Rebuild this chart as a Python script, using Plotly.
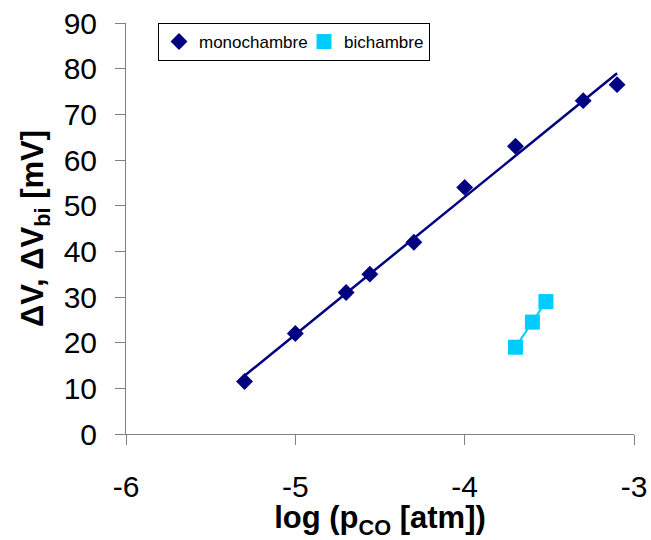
import numpy as np
import plotly.graph_objects as go

# Data
mono_x = [-5.3, -5.0, -4.7, -4.56, -4.3, -4.0, -3.7, -3.3, -3.1]
mono_y = [11.5, 22.0, 31.0, 35.0, 42.0, 54.0, 63.0, 73.0, 76.5]
bi_x = [-3.7, -3.6, -3.52]
bi_y = [19.0, 24.5, 29.0]
x_ticks = [-6, -5, -4, -3]
y_ticks = [0, 10, 20, 30, 40, 50, 60, 70, 80, 90]

NAVY = "#000080"
CYAN = "#00CCFF"
FONT = "Arial, Liberation Sans, sans-serif"

# linear trend line (least squares) of monochambre data
slope, intercept = np.polyfit(mono_x, mono_y, 1)
trend_x = np.array([min(mono_x), max(mono_x)])
trend_y = slope * trend_x + intercept

fig = go.Figure()
fig.add_trace(go.Scatter(x=trend_x, y=trend_y, mode="lines",
                         line=dict(color=NAVY, width=2.5),
                         showlegend=False, hoverinfo="skip"))
fig.add_trace(go.Scatter(x=bi_x, y=bi_y, mode="lines",
                         line=dict(color=CYAN, width=2),
                         showlegend=False, hoverinfo="skip"))
fig.add_trace(go.Scatter(x=mono_x, y=mono_y, mode="markers", name="monochambre",
                         legendwidth=100,
                         marker=dict(symbol="diamond", size=13, color=NAVY)))
fig.add_trace(go.Scatter(x=bi_x, y=bi_y, mode="markers", name="bichambre",
                         marker=dict(symbol="square", size=15, color=CYAN)))

fig.update_layout(
    width=651, height=540,
    margin=dict(l=126, r=17, t=23, b=106, autoexpand=False),
    paper_bgcolor="white", plot_bgcolor="white",
    font=dict(family=FONT, color="black"),
    legend=dict(orientation="h", x=0.063, y=1.0, xanchor="left", yanchor="top",
                bordercolor="black", borderwidth=1, bgcolor="white",
                font=dict(size=17, family=FONT), itemwidth=30,
                tracegroupgap=0),
)
fig.update_xaxes(range=[-6, -3], tickvals=x_ticks, ticktext=[str(v) for v in x_ticks],
                 showgrid=False, zeroline=False, showline=True, linecolor="#808080",
                 linewidth=1, ticks="outside", ticklen=10, tickcolor="#808080",
                 tickfont=dict(size=30, family=FONT), ticklabelstandoff=16,
                 automargin=False,
                 title=dict(text="<b>log (p<sub>CO</sub> [atm])</b>",
                            font=dict(size=31, family=FONT), standoff=11))
fig.update_yaxes(range=[0, 90], tickvals=y_ticks, showgrid=False, zeroline=False,
                 showline=True, linecolor="#808080", linewidth=1, ticks="outside",
                 ticklen=10, tickcolor="#808080",
                 tickfont=dict(size=30, family=FONT), ticklabelstandoff=12,
                 automargin=False,
                 title=dict(text="<b>ΔV, ΔV<sub>bi</sub> [mV]</b>",
                            font=dict(size=31, family=FONT), standoff=10))

fig.write_html("out.html", config={"displayModeBar": False},
               post_script="document.body.style.margin='0px';document.body.style.overflow='hidden';")
